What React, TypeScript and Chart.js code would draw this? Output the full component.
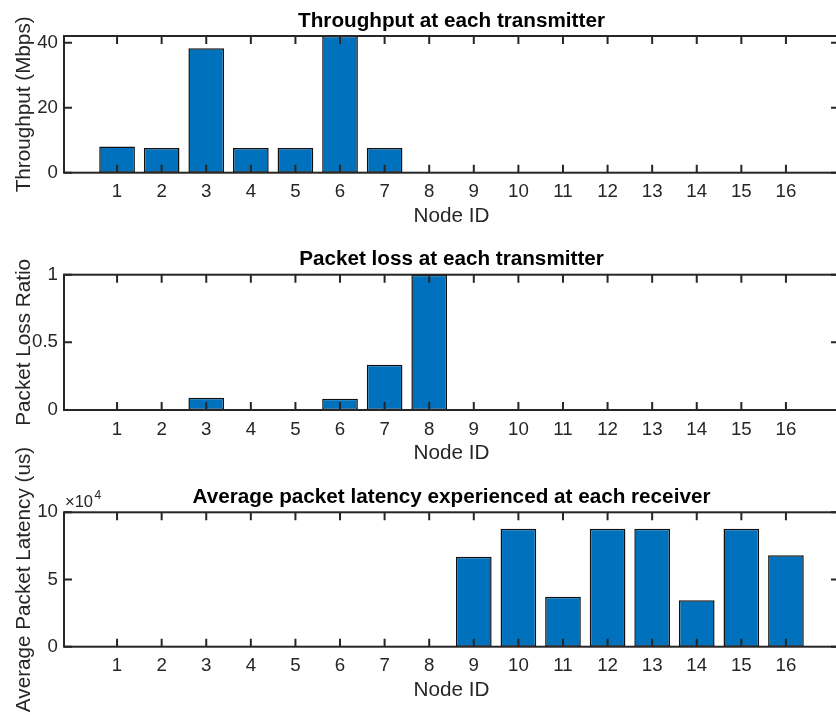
import React, { useEffect, useRef } from "react";
import { Chart, registerables } from "chart.js";

Chart.register(...registerables);

// ---- Data ----
const nodeIds = [1, 2, 3, 4, 5, 6, 7, 8, 9, 10, 11, 12, 13, 14, 15, 16];
const nodeLabels = ["1", "2", "3", "4", "5", "6", "7", "8", "9", "10", "11", "12", "13", "14", "15", "16"];

const throughputMbps = [8.1, 7.6, 38.3, 7.6, 7.6, 42.1, 7.6, 0, 0, 0, 0, 0, 0, 0, 0, 0];
const packetLossRatio = [0, 0, 0.091, 0, 0, 0.084, 0.335, 1.0, 0, 0, 0, 0, 0, 0, 0, 0];
const latencyUs = [0, 0, 0, 0, 0, 0, 0, 0, 67000, 87800, 37200, 87800, 87800, 34500, 87800, 68000];

const throughputTicks = [0, 20, 40];
const throughputTickLabels = ["0", "20", "40"];
const lossTicks = [0, 0.5, 1];
const lossTickLabels = ["0", "0.5", "1"];
const latencyTicks = [0, 50000, 100000];
const latencyTickLabels = ["0", "5", "10"];
const latencyExponent = "4";

const titles = [
  "Throughput at each transmitter",
  "Packet loss at each transmitter",
  "Average packet latency experienced at each receiver",
];
const yTitles = ["Throughput (Mbps)", "Packet Loss Ratio", "Average Packet Latency (us)"];
const xTitle = "Node ID";

// ---- Styling / layout ----
const FONT = "'Liberation Sans', Arial, Helvetica, sans-serif";
const AXIS_COLOR = "#262626";
const BAR_COLOR = "#0072BD";
const CANVAS_W = 850;
const CANVAS_H = 715;
const X_MIN = -0.19;
const X_MAX = 17.19;
const PLOT_RIGHT = 839;
const Y_AXIS_W = 64;
const X_AXIS_H = 56.2;
const TITLE_SIZE = 20.7;
const TITLE_PAD_BOTTOM = 2.6;
const TITLE_BOX = TITLE_SIZE * 1.2 + TITLE_PAD_BOTTOM;

const matlabAxes = {
  id: "matlabAxes",
  afterDatasetsDraw(chart: any, _args: any, opts: any) {
    const { ctx, chartArea: a, scales } = chart;
    const x = scales.x;
    const y = scales.y;
    const tl = 8;
    ctx.save();
    ctx.strokeStyle = AXIS_COLOR;
    ctx.lineWidth = 2;
    ctx.beginPath();
    x.ticks.forEach((t: any) => {
      const px = x.getPixelForValue(t.value);
      ctx.moveTo(px, a.bottom);
      ctx.lineTo(px, a.bottom - tl);
      ctx.moveTo(px, a.top);
      ctx.lineTo(px, a.top + tl);
    });
    y.ticks.forEach((t: any) => {
      const py = y.getPixelForValue(t.value);
      ctx.moveTo(a.left, py);
      ctx.lineTo(a.left + tl, py);
      ctx.moveTo(a.right, py);
      ctx.lineTo(a.right - tl, py);
    });
    ctx.stroke();
    ctx.strokeRect(a.left, a.top, a.right - a.left, a.bottom - a.top);
    if (opts && opts.exponent) {
      ctx.fillStyle = AXIS_COLOR;
      ctx.textBaseline = "alphabetic";
      ctx.textAlign = "left";
      ctx.font = `16.5px ${FONT}`;
      const base = "\u00D710";
      ctx.fillText(base, a.left + 1, a.top - 5.6);
      const w = ctx.measureText(base).width;
      ctx.font = `12px ${FONT}`;
      ctx.fillText(opts.exponent, a.left + 1 + w + 1.5, a.top - 13);
    }
    ctx.restore();
  },
};

type Spec = {
  values: number[];
  yMin: number;
  yMax: number;
  yTicks: number[];
  yTickLabels: string[];
  title: string;
  yTitle: string;
  top: number;
  bottom: number;
  exponent?: string;
};

function makeConfig(s: Spec): any {
  return {
    type: "bar",
    data: {
      datasets: [
        {
          data: nodeIds.map((id, i) => ({ x: id, y: s.values[i] })),
          backgroundColor: BAR_COLOR,
          borderColor: "#111111",
          borderWidth: 1.5,
          borderSkipped: false,
          barPercentage: 0.8,
          categoryPercentage: 1,
        },
      ],
    },
    options: {
      responsive: false,
      animation: false,
      events: [],
      layout: {
        padding: {
          top: s.top - TITLE_BOX,
          left: 0,
          right: CANVAS_W - PLOT_RIGHT,
          bottom: CANVAS_H - s.bottom - X_AXIS_H,
        },
      },
      plugins: {
        legend: { display: false },
        tooltip: { enabled: false },
        title: {
          display: true,
          text: s.title,
          fullSize: false,
          color: "#000000",
          font: { family: FONT, size: TITLE_SIZE, weight: "bold" },
          padding: { top: 0, bottom: TITLE_PAD_BOTTOM },
        },
        matlabAxes: { exponent: s.exponent },
      },
      scales: {
        x: {
          type: "linear",
          min: X_MIN,
          max: X_MAX,
          offset: false,
          grid: { display: false, drawTicks: false },
          border: { display: false },
          afterBuildTicks: (scale: any) => {
            scale.ticks = nodeIds.map((v) => ({ value: v }));
          },
          afterFit: (scale: any) => {
            scale.height = X_AXIS_H;
          },
          ticks: {
            autoSkip: false,
            maxRotation: 0,
            minRotation: 0,
            padding: 8.3,
            color: AXIS_COLOR,
            font: { family: FONT, size: 18.7 },
            callback: (_v: any, i: number) => nodeLabels[i],
          },
          title: {
            display: true,
            text: xTitle,
            color: AXIS_COLOR,
            font: { family: FONT, size: 20.7 },
            padding: { top: 0, bottom: 0 },
          },
        },
        y: {
          type: "linear",
          min: s.yMin,
          max: s.yMax,
          grid: { display: false, drawTicks: false },
          border: { display: false },
          afterBuildTicks: (scale: any) => {
            scale.ticks = s.yTicks.map((v) => ({ value: v }));
          },
          afterFit: (scale: any) => {
            scale.width = Y_AXIS_W;
          },
          ticks: {
            padding: 6,
            color: AXIS_COLOR,
            font: { family: FONT, size: 18.7 },
            callback: (_v: any, i: number) => s.yTickLabels[i],
          },
          title: {
            display: true,
            text: s.yTitle,
            color: AXIS_COLOR,
            font: { family: FONT, size: 20.7 },
            padding: { top: 12, bottom: 0 },
          },
        },
      },
    },
    plugins: [matlabAxes],
  };
}

const specs: Spec[] = [
  {
    values: throughputMbps,
    yMin: 0,
    yMax: 42.1,
    yTicks: throughputTicks,
    yTickLabels: throughputTickLabels,
    title: titles[0],
    yTitle: yTitles[0],
    top: 36,
    bottom: 172.7,
  },
  {
    values: packetLossRatio,
    yMin: 0,
    yMax: 1,
    yTicks: lossTicks,
    yTickLabels: lossTickLabels,
    title: titles[1],
    yTitle: yTitles[1],
    top: 274.7,
    bottom: 410,
  },
  {
    values: latencyUs,
    yMin: 0,
    yMax: 100000,
    yTicks: latencyTicks,
    yTickLabels: latencyTickLabels,
    title: titles[2],
    yTitle: yTitles[2],
    top: 512.3,
    bottom: 646.7,
    exponent: latencyExponent,
  },
];

function Panel({ spec }: { spec: Spec }) {
  const ref = useRef<HTMLCanvasElement | null>(null);
  useEffect(() => {
    if (!ref.current) return;
    const chart = new Chart(ref.current, makeConfig(spec));
    return () => chart.destroy();
  }, [spec]);
  return (
    <canvas
      ref={ref}
      width={CANVAS_W}
      height={CANVAS_H}
      style={{ position: "absolute", left: 0, top: 0, width: CANVAS_W, height: CANVAS_H }}
    />
  );
}

export default function App() {
  return (
    <div
      style={{
        position: "fixed",
        left: 0,
        top: 0,
        width: 836,
        height: 715,
        overflow: "hidden",
        background: "#ffffff",
      }}
    >
      {specs.map((s, i) => (
        <Panel key={i} spec={s} />
      ))}
    </div>
  );
}
